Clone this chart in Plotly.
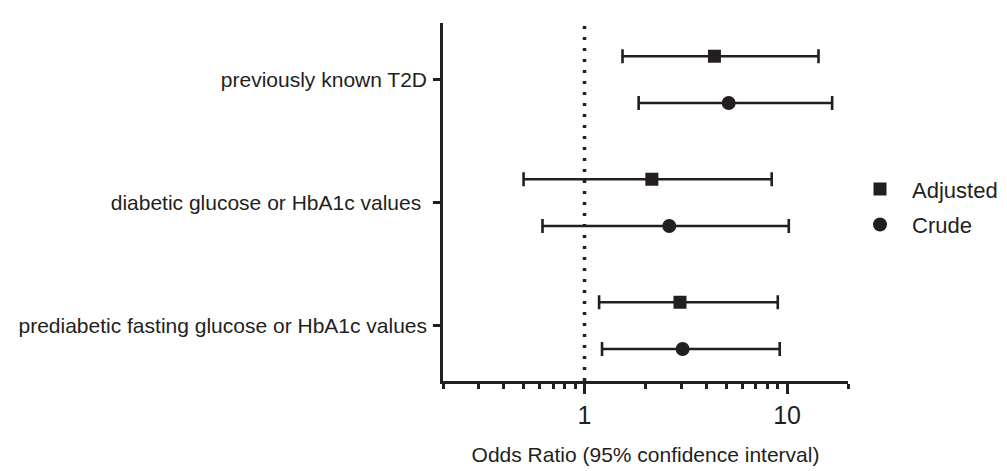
import plotly.graph_objects as go
import numpy as np

# ---- data ----
categories = ["previously known T2D",
              "diabetic glucose or HbA1c values\u00a0",
              "prediabetic fasting glucose or HbA1c values"]
cat_positions = [3, 2, 1]

adjusted_or = [4.38, 2.15, 2.96]
adjusted_lo = [1.54, 0.50, 1.18]
adjusted_hi = [14.3, 8.4, 9.0]

crude_or = [5.15, 2.62, 3.05]
crude_lo = [1.85, 0.62, 1.22]
crude_hi = [16.7, 10.2, 9.2]

reference_or = 1
x_ticks = [1, 10]
x_minor = [0.2, 0.3, 0.4, 0.5, 0.6, 0.7, 0.8, 0.9, 2, 3, 4, 5, 6, 7, 8, 9, 20]

# ---- style ----
INK = "#231f20"
FONT = "Liberation Sans, Arial, sans-serif"
OFFSET = 0.19


def err(v, lo, hi):
    v, lo, hi = np.array(v), np.array(lo), np.array(hi)
    return dict(type="data", symmetric=False, array=hi - v, arrayminus=v - lo,
                color=INK, thickness=2.6, width=7)


fig = go.Figure()
fig.add_trace(go.Scatter(
    x=adjusted_or, y=[p + OFFSET for p in cat_positions], mode="markers",
    name="Adjusted", marker=dict(symbol="square", size=13, color=INK),
    error_x=err(adjusted_or, adjusted_lo, adjusted_hi), legendgroup="a"))
fig.add_trace(go.Scatter(
    x=crude_or, y=[p - OFFSET for p in cat_positions], mode="markers",
    name="Crude", marker=dict(symbol="circle", size=14, color=INK),
    error_x=err(crude_or, crude_lo, crude_hi), legendgroup="c"))

fig.add_shape(type="line", xref="x", yref="paper",
              x0=reference_or, x1=reference_or, y0=0, y1=1,
              line=dict(color=INK, width=3.5, dash="3px,8px"), layer="below")

fig.update_layout(
    width=1007, height=471,
    margin=dict(l=435, r=149, t=15, b=98),
    paper_bgcolor="white", plot_bgcolor="white",
    font=dict(family=FONT, size=21, color=INK),
    showlegend=True,
    legend=dict(x=1.0, y=0.5945, xanchor="left", yanchor="top",
                font=dict(size=22, color=INK), bgcolor="rgba(0,0,0,0)",
                traceorder="grouped", tracegroupgap=4, itemwidth=54),
    xaxis=dict(type="log", range=[np.log10(0.2), np.log10(20)], automargin=False,
               tickmode="array", tickvals=x_ticks, ticktext=[str(t) for t in x_ticks],
               ticks="outside", ticklen=10, tickwidth=2.5, tickcolor=INK,
               showline=True, linecolor=INK, linewidth=2.5,
               showgrid=False, zeroline=False,
               tickfont=dict(size=25),
               minor=dict(tickmode="array", tickvals=x_minor, ticks="outside",
                          ticklen=5, tickwidth=2.5, tickcolor=INK, showgrid=False),
               title=dict(text="Odds Ratio (95% confidence interval)",
                          font=dict(size=21), standoff=20)),
    yaxis=dict(range=[0.55, 3.46], automargin=False,
               tickmode="array", tickvals=cat_positions,
               ticktext=categories, ticks="outside", ticklen=7, tickwidth=2.5,
               tickcolor=INK, showline=True, linecolor=INK, linewidth=2.5,
               showgrid=False, zeroline=False, tickfont=dict(size=21),
               ticklabelstandoff=2),
)

fig.write_html("out.html")
